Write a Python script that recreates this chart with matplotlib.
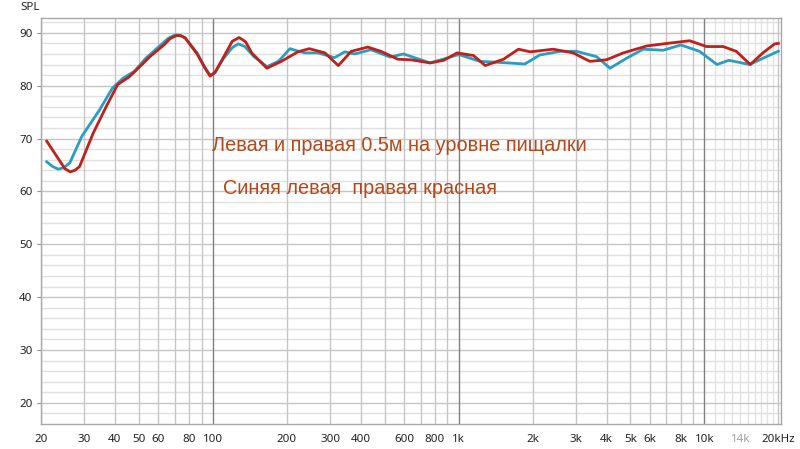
import matplotlib
matplotlib.use("Agg")
import matplotlib.pyplot as plt
from matplotlib.ticker import FixedLocator, NullFormatter

# Blue (left) channel
blue_freq = [21.1, 22.3, 23.5, 24.8, 26.2, 29.3, 34.6, 39.0, 43.1, 47.9, 53.4, 60.4, 66.0, 70.3, 74.0,
             77.3, 86.3, 93.0, 97.5, 102, 110, 120, 127, 135, 147, 166, 185, 206, 220, 237, 268,
             313, 344, 378, 440, 527, 597, 766, 986,
             1017, 1220, 1470, 1860, 2140, 2590, 3010, 3640, 4130, 4830, 5640, 6800, 8020,
             9550, 11250, 12570, 15270, 19300, 20000]
blue_spl = [65.6, 64.7, 64.2, 64.5, 65.4, 70.4, 75.4, 79.5, 81.4, 82.7, 85.2, 87.4, 89.0, 89.6, 89.5,
            89.0, 86.2, 83.4, 82.0, 82.4, 85.0, 87.2, 87.9, 87.4, 85.5, 83.6, 84.6, 87.0, 86.6, 86.2, 86.2,
            85.3, 86.4, 86.0, 86.8, 85.4, 86.0, 84.3, 85.8,
            85.8, 84.6, 84.4, 84.1, 85.8, 86.5, 86.5, 85.5, 83.3, 85.2, 86.9, 86.7, 87.7,
            86.5, 84.0, 84.8, 84.0, 86.2, 86.5]

# Red (right) channel
red_freq = [21.1, 23.9, 25.0, 26.3, 27.5, 28.7, 32.6, 36.9, 41.0, 45.8, 50.5, 55.5, 63.3, 67.0, 71.3,
            74.5, 77.3, 86.3, 93.0, 97.5, 102, 110, 120, 128, 136, 144, 166, 190, 222, 247, 286,
            324, 366, 427, 483, 566, 640, 766, 871, 986,
            1150, 1283, 1523, 1752, 1957, 2425, 2926, 3420, 3999, 4679, 5820, 6800, 8710,
            10200, 11920, 13480, 15370, 17300, 19300, 20000]
red_spl = [69.5, 65.7, 64.3, 63.7, 64.0, 64.7, 71.0, 76.1, 80.2, 81.7, 83.6, 85.5, 87.7, 88.9, 89.5,
           89.4, 89.0, 86.0, 83.3, 81.8, 82.5, 85.2, 88.4, 89.1, 88.3, 86.2, 83.3, 84.6, 86.4, 87.0, 86.2,
           83.8, 86.5, 87.3, 86.5, 85.0, 84.9, 84.3, 84.8, 86.2,
           85.7, 83.8, 85.0, 86.9, 86.4, 86.9, 86.2, 84.6, 84.9, 86.2, 87.5, 87.9, 88.5,
           87.4, 87.4, 86.5, 84.0, 86.2, 87.9, 88.0]

x_ticks = [20, 30, 40, 50, 60, 80, 100, 200, 300, 400, 600, 800, 1000, 2000, 3000, 4000,
           5000, 6000, 8000, 10000, 14000, 20000]
x_labels = ["20", "30", "40", "50", "60", "80", "100", "200", "300", "400", "600", "800", "1k",
            "2k", "3k", "4k", "5k", "6k", "8k", "10k", "14k", "20kHz"]
y_ticks = [20, 30, 40, 50, 60, 70, 80, 90]

title1 = "Левая и правая 0.5м на уровне пищалки"
title2 = "Синяя левая  правая красная"

fig = plt.figure(figsize=(8, 4.49), dpi=100)
ax = fig.add_axes([41/800, 1-424/449, 740/800, 406/449])
ax.set_xscale("log")
ax.set_xlim(20, 20500)
ax.set_ylim(16.0, 92.8)

# grid lines
grid_main = [20, 30, 40, 50, 60, 70, 80, 90, 200, 300, 400, 500, 600, 700, 800, 900,
             2000, 3000, 4000, 5000, 6000, 7000, 8000, 9000, 20000]
for f in grid_main:
    ax.axvline(f, color="#c6c6c6", lw=1, zorder=1)
for f in range(11000, 20000, 1000):
    ax.axvline(f, color="#e2e2e2", lw=1, zorder=1)
for f in [100, 1000, 10000]:
    ax.axvline(f, color="#808080", lw=1, zorder=1.5)
for y in range(18, 93, 2):
    if y % 10 == 0:
        ax.axhline(y, color="#c6c6c6", lw=1, zorder=1)
    else:
        ax.axhline(y, color="#e0e0e0", lw=1, zorder=0.9)

ax.plot(blue_freq, blue_spl, color="#2a9dc0", lw=2.0, zorder=3, solid_joinstyle="round")
ax.plot(red_freq, red_spl, color="#c0201a", lw=2.0, zorder=4, solid_joinstyle="round")

ax.xaxis.set_major_locator(FixedLocator(x_ticks))
ax.xaxis.set_minor_locator(FixedLocator([]))
ax.xaxis.set_minor_formatter(NullFormatter())
ax.set_xticks(x_ticks)
ax.set_xticklabels(x_labels)
ax.set_yticks(y_ticks)
ax.set_yticklabels([str(v) for v in y_ticks])
for lab in ax.get_xticklabels() + ax.get_yticklabels():
    lab.set_fontfamily("Noto Sans")
    lab.set_fontsize(8.3)
    lab.set_color("#222222")
ax.get_xticklabels()[x_labels.index("14k")].set_color("#a0a0a0")
ax.tick_params(axis="x", length=0, pad=7)
ax.tick_params(axis="y", length=3, width=0.8, color="#909090", pad=3)
for s in ax.spines.values():
    s.set_color("#a8a8a8")
    s.set_linewidth(1)

fig.text(20/800, 1-8/449, "SPL", fontfamily="Noto Sans", fontsize=8.3, color="#222222",
         ha="left", va="center")

ax.text(0.231, 0.687, title1, transform=ax.transAxes, fontfamily="Liberation Sans",
        fontsize=14.3, color="#b5471a", ha="left", va="center", zorder=5)
ax.text(0.246, 0.581, title2, transform=ax.transAxes, fontfamily="Liberation Sans",
        fontsize=14.3, color="#b5471a", ha="left", va="center", zorder=5)

fig.savefig("out.png", dpi=100)
